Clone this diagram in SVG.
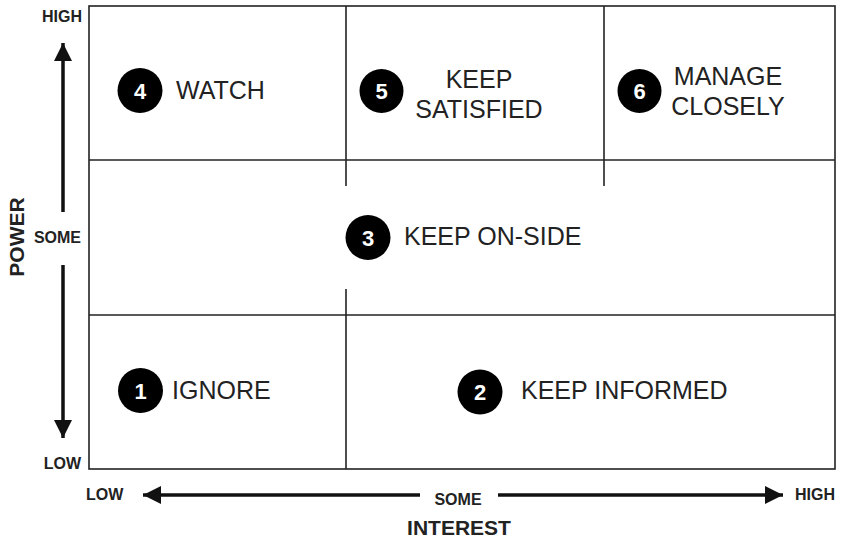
<svg xmlns="http://www.w3.org/2000/svg" width="841" height="539" viewBox="0 0 841 539">
<style>
.grid{stroke:#222;stroke-width:1.6;fill:none}
.axis{stroke:#111;stroke-width:3.5;fill:none}
.lbl{font-family:"Liberation Sans",Arial,sans-serif;font-size:25px;fill:#222}
.ax{font-family:"Liberation Sans",Arial,sans-serif;font-size:16px;font-weight:bold;fill:#222}
.title{font-family:"Liberation Sans",Arial,sans-serif;font-size:21px;font-weight:bold;fill:#222}
.badge{fill:#000}
.num{font-family:"Liberation Sans",Arial,sans-serif;font-size:22px;font-weight:bold;fill:#fff;text-anchor:middle}
</style>
<defs>
<marker id="ah" markerUnits="userSpaceOnUse" markerWidth="20" markerHeight="18" refX="18" refY="9" orient="auto">
<path d="M0,0 L18,9 L0,18 Z" fill="#111"/>
</marker>
</defs>
<rect width="841" height="539" fill="#fff"/>
<g id="grid">
<rect class="grid" x="89" y="6" width="746" height="463"/>
<line class="grid" x1="89" y1="160" x2="835" y2="160"/>
<line class="grid" x1="89" y1="315" x2="835" y2="315"/>
<line class="grid" x1="346" y1="6" x2="346" y2="186"/>
<line class="grid" x1="604" y1="6" x2="604" y2="186"/>
<line class="grid" x1="346" y1="289" x2="346" y2="315"/>
<line class="grid" x1="346" y1="315" x2="346" y2="469"/>
</g>
<g id="connectors">
<line class="axis" x1="63" y1="212" x2="63" y2="43" marker-end="url(#ah)"/>
<line class="axis" x1="63" y1="265" x2="63" y2="438" marker-end="url(#ah)"/>
<line class="axis" x1="420" y1="495" x2="143" y2="495" marker-end="url(#ah)"/>
<line class="axis" x1="498" y1="495" x2="783" y2="495" marker-end="url(#ah)"/>
</g>
<g id="axis-labels">
<text class="ax" x="82" y="22" text-anchor="end">HIGH</text>
<text class="ax" x="81" y="243" text-anchor="end">SOME</text>
<text class="ax" x="81" y="469" text-anchor="end">LOW</text>
<text class="title" x="0" y="0" text-anchor="middle" transform="translate(23.5,237) rotate(-90)">POWER</text>
<text class="ax" x="86" y="500">LOW</text>
<text class="ax" x="458" y="505" text-anchor="middle">SOME</text>
<text class="ax" x="835" y="500" text-anchor="end">HIGH</text>
<text class="title" x="459" y="535" text-anchor="middle">INTEREST</text>
</g>
<g id="node1">
<circle class="badge" cx="140.5" cy="390.5" r="22.5"/>
<text class="num" x="140.5" y="398.5">1</text>
<text class="lbl" x="172" y="399">IGNORE</text>
</g>
<g id="node2">
<circle class="badge" cx="480" cy="392" r="22.5"/>
<text class="num" x="480" y="400">2</text>
<text class="lbl" x="521" y="399">KEEP INFORMED</text>
</g>
<g id="node3">
<circle class="badge" cx="368" cy="237.5" r="22.5"/>
<text class="num" x="368" y="245.5">3</text>
<text class="lbl" x="404" y="245">KEEP ON-SIDE</text>
</g>
<g id="node4">
<circle class="badge" cx="140" cy="90.5" r="22.5"/>
<text class="num" x="140" y="98.5">4</text>
<text class="lbl" x="176" y="99">WATCH</text>
</g>
<g id="node5">
<circle class="badge" cx="381.5" cy="91" r="22"/>
<text class="num" x="381.5" y="99">5</text>
<text class="lbl" x="479" y="88" text-anchor="middle">KEEP</text>
<text class="lbl" x="479" y="118" text-anchor="middle">SATISFIED</text>
</g>
<g id="node6">
<circle class="badge" cx="639.5" cy="91" r="22"/>
<text class="num" x="639.5" y="99">6</text>
<text class="lbl" x="728" y="85" text-anchor="middle">MANAGE</text>
<text class="lbl" x="728" y="115" text-anchor="middle">CLOSELY</text>
</g>
</svg>
